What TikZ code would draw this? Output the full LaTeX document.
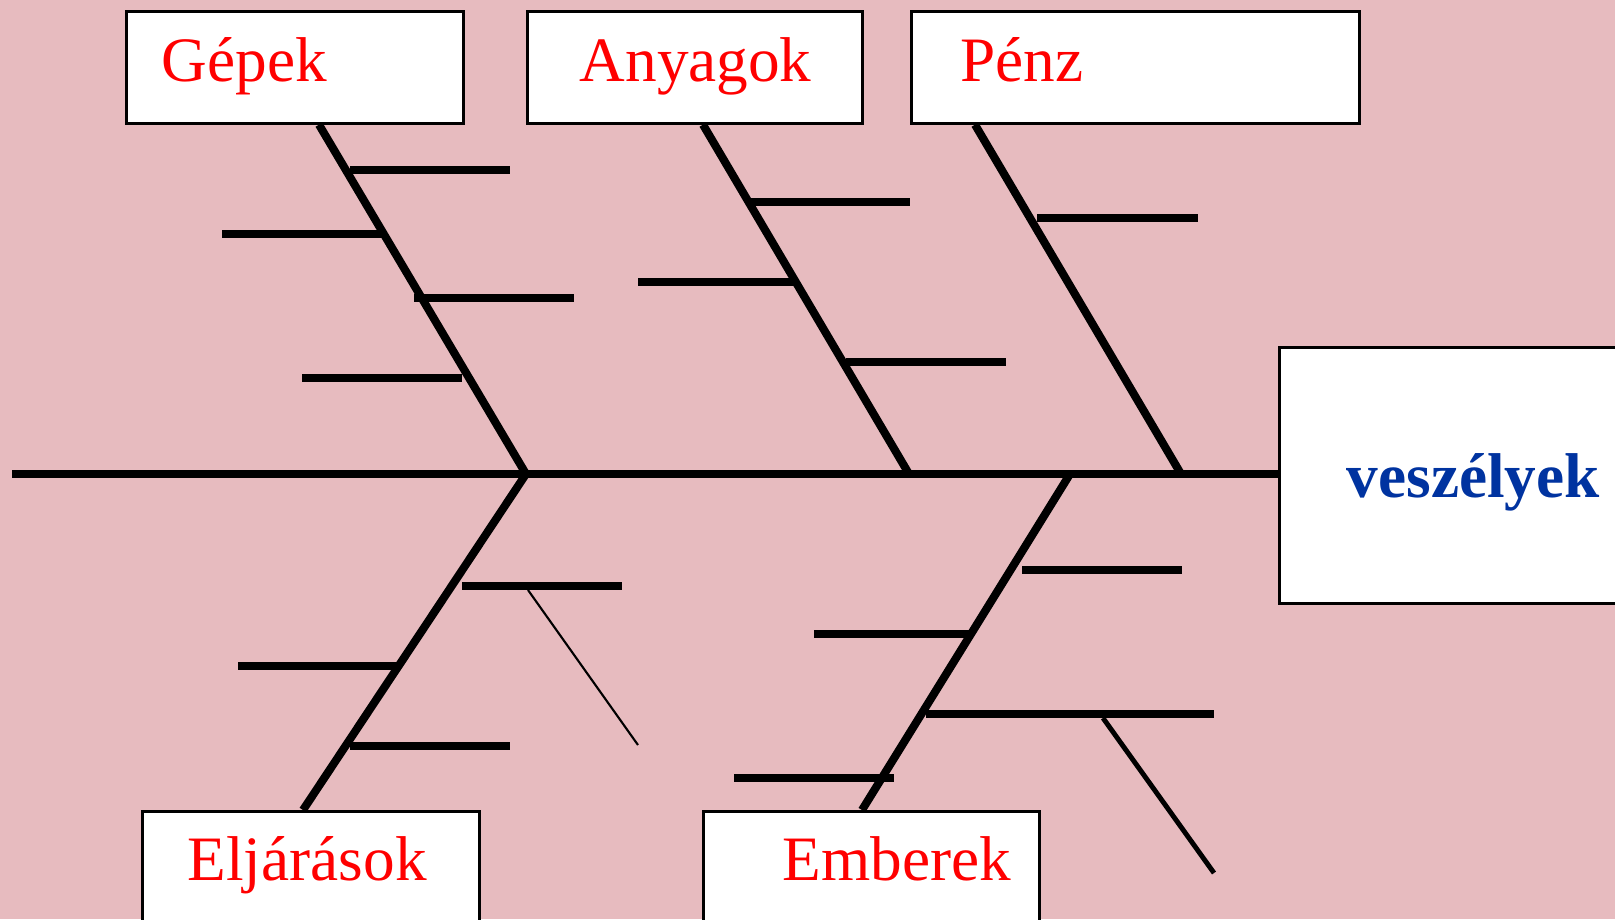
\documentclass[tikz,border=0pt]{standalone}
\usepackage{fontspec}
\setmainfont{Liberation Serif}
\definecolor{hatter}{RGB}{231,187,191}
\definecolor{okozat}{RGB}{0,51,160}

\begin{document}
\begin{tikzpicture}[x=0.1mm,y=-0.1mm,
  doboz/.style={draw=black,line width=0.9pt,fill=white,anchor=north west,inner sep=0pt},
  cim/.style={anchor=base west,inner sep=0pt,text=red,font=\fontsize{18}{20}\selectfont},
  csont/.style={line width=2.3pt,line join=miter},
  szalka/.style={line width=2.25pt}]
\clip (0,0) rectangle (1615,919);
\fill[hatter] (0,0) rectangle (1615,919);

% dobozok
\node[doboz,minimum width=33.65mm,minimum height=11.15mm] (gepek) at (125,10) {};
\node[doboz,minimum width=33.5mm,minimum height=11.15mm] (anyagok) at (526,10) {};
\node[doboz,minimum width=44.8mm,minimum height=11.15mm] (penz) at (909.5,10) {};
\node[doboz,minimum width=36.5mm,minimum height=25.55mm] (veszelyek) at (1278,346) {};
\node[doboz,minimum width=33.65mm,minimum height=13mm] (eljarasok) at (141,810) {};
\node[doboz,minimum width=33.6mm,minimum height=13mm] (emberek) at (702,810) {};

% gerinc es fo csontok
\coordinate (farok) at (12,474);
\coordinate (fej) at (veszelyek.west |- 0,474);
\coordinate (s1) at (526,474);
\coordinate (s2) at (909,474);
\coordinate (s3) at (1181,474);
\coordinate (s4) at (1070,474);
\coordinate (g0) at (gepek.south -| 319,0);
\coordinate (a0) at (anyagok.south -| 703,0);
\coordinate (p0) at (penz.south -| 975,0);
\coordinate (e0) at (eljarasok.north -| 303,0);
\coordinate (m0) at (emberek.north -| 862,0);

\draw[csont] (farok) -- (fej);
\draw[csont] (g0) -- (s1) -- (e0);
\draw[csont] (a0) -- (s2);
\draw[csont] (p0) -- (s3);
\draw[csont] (s4) -- (m0);

% mellekagak
\draw[szalka]
  (350,170) -- (510,170)
  (222,234) -- (383,234)
  (414,298) -- (574,298)
  (302,378) -- (462,378);
\draw[szalka]
  (750,202) -- (910,202)
  (638,282) -- (795,282)
  (846,362) -- (1006,362);
\draw[szalka]
  (1037,218) -- (1198,218);
\draw[szalka]
  (462,586) -- (622,586)
  (238,666) -- (397,666)
  (350,746) -- (510,746);
\draw[szalka]
  (1022,570) -- (1182,570)
  (814,634) -- (972,634)
  (926,714) -- (1214,714)
  (734,778) -- (894,778);
\draw[line width=0.6pt] (528,590) -- (638,745);
\draw[line width=1.4pt] (1103,718) -- (1214,873);

% feliratok
\node[cim] (gepek-t) at (161,81) {Gépek};
\node[cim] (anyagok-t) at (579,81) {Anyagok};
\node[cim] (penz-t) at (960,81) {Pénz};
\node[cim,text=okozat,font=\fontsize{18}{20}\selectfont\bfseries] (veszelyek-t) at (1346,497) {veszélyek};
\node[cim] (eljarasok-t) at (187,880) {Eljárások};
\node[cim] (emberek-t) at (782,880) {Emberek};
\end{tikzpicture}
\end{document}
